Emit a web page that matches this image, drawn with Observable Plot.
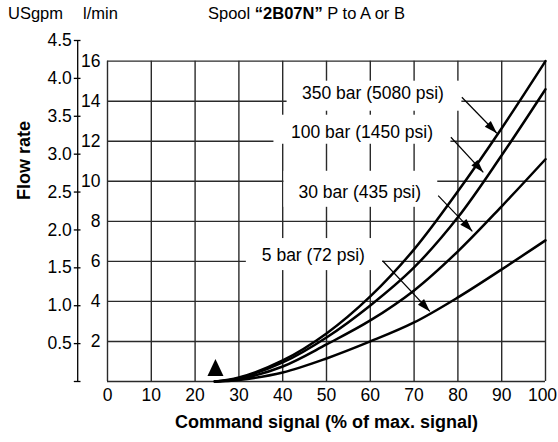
<!DOCTYPE html>
<html><head><meta charset="utf-8">
<script src="https://cdn.jsdelivr.net/npm/d3@7"></script>
<script src="https://cdn.jsdelivr.net/npm/@observablehq/plot@0.6"></script>
<style>
body{margin:0;background:#fff;font-family:"Liberation Sans",Arial,sans-serif;}
#wrap{position:relative;width:558px;height:442px;overflow:hidden;}
#wrap svg{position:absolute;left:0;top:0;}
.hdr{position:absolute;top:5px;font-size:16.5px;line-height:16px;color:#000;white-space:pre;z-index:2;}
</style></head><body>
<div id="wrap">
<div class="hdr" style="left:8px">USgpm</div>
<div class="hdr" style="left:83px">l/min</div>
<div class="hdr" style="left:208px">Spool <b>“2B07N”</b> P to A or B</div>
</div>
<script>
// ---- data ----
const signal  = [24.5, 30, 40, 50, 60, 70, 80, 90, 100];
const flow350 = [0, 0.2, 1.05, 2.4, 4.25, 6.6, 9.5, 12.65, 16.0];
const flow100 = [0, 0.17, 0.95, 2.2, 3.8, 5.7, 8.2, 11.3, 14.6];
const flow30  = [0, 0.12, 0.75, 1.85, 3.05, 4.55, 6.5, 8.75, 11.1];
const flow5   = [0, 0.08, 0.45, 1.15, 2.0, 2.95, 4.2, 5.6, 7.05];
const seriesNames = ["350 bar", "100 bar", "30 bar", "5 bar"];
const xTicks = [0, 10, 20, 30, 40, 50, 60, 70, 80, 90, 100];
const lpmTicks = [2, 4, 6, 8, 10, 12, 14, 16];
const gpmTicks = [0, 0.5, 1.0, 1.5, 2.0, 2.5, 3.0, 3.5, 4.0, 4.5];
const LPM_PER_GPM = 3.785;
// annotations
const labelText = ["350 bar (5080 psi)", "100 bar (1450 psi)", "30 bar (435 psi)", "5 bar (72 psi)"];
const labelX = [60.6, 58.1, 57.6, 47.0];
const labelY = [14.37, 12.45, 9.45, 6.28];
const boxX1 = [41.0, 38.0, 40.3, 31.7];
const boxX2 = [80.9, 78.4, 75.4, 62.8];
const boxY1 = [13.5, 11.85, 8.7, 5.54];
const boxY2 = [15.0, 13.3, 10.5, 7.14];
const leadX1 = [80.9, 78.4, 75.5, 62.8];
const leadY1 = [14.2, 12.2, 9.28, 6.03];
const leadX2 = [88.9, 85.8, 83.3, 73.6];
const leadY2 = [12.4, 10.45, 7.5, 3.5];
const startMarkX = [24.65];
const startMarkY = [0.7];

// ---- tables ----
const flows = [flow350, flow100, flow30, flow5];
const rows = [];
flows.forEach((vals, k) => signal.forEach((s, i) => rows.push({name: seriesNames[k], x: s, y: vals[i]})));
const labels = labelText.map((t, i) => ({t, x: labelX[i], y: labelY[i], x1: boxX1[i], x2: boxX2[i], y1: boxY1[i], y2: boxY2[i]}));
const leaders = leadX1.map((_, i) => ({x1: leadX1[i], y1: leadY1[i], x2: leadX2[i], y2: leadY2[i]}));
const startMark = startMarkX.map((x, i) => ({x, y: startMarkY[i]}));

const arrowHead = {draw(ctx) { ctx.moveTo(0, 0); ctx.lineTo(4.2, 13); ctx.lineTo(-4.2, 13); ctx.closePath(); }};
const bigTriangle = {draw(ctx) { ctx.moveTo(0, -8.5); ctx.lineTo(8, 8.5); ctx.lineTo(-8, 8.5); ctx.closePath(); }};

const FS = 17.5;
const gridColor = "#2a2a2a";
const xTicksMain = xTicks.slice(0, -1);
const xTickLast = xTicks.slice(-1);

function build(rot) {
  return Plot.plot({
    width: 558, height: 442,
    marginLeft: 107, marginRight: 13, marginTop: 40, marginBottom: 61,
    x: {domain: [0, 100]},
    y: {domain: [0, 4.5 * LPM_PER_GPM]},
    style: {fontFamily: "'Liberation Sans', Arial, sans-serif", fontSize: FS + "px", color: "#000", background: "transparent", overflow: "visible"},
    marks: [
      Plot.ruleX(xTicks, {x: d => d, y1: 0, y2: 16, stroke: gridColor, strokeWidth: 1.4}),
      Plot.ruleY([0, ...lpmTicks], {y: d => d, x1: 0, x2: 100, stroke: gridColor, strokeWidth: 1.4}),
      Plot.rect(labels, {x1: "x1", x2: "x2", y1: "y1", y2: "y2", fill: "white"}),
      Plot.axisX(xTicksMain, {tickSize: 0, tickPadding: 7, label: null, tickFormat: d => String(d), fontSize: FS}),
      Plot.axisX(xTickLast, {tickSize: 0, tickPadding: 7, label: null, tickFormat: d => String(d), fontSize: FS, dx: -3}),
      Plot.axisY(lpmTicks, {anchor: "left", tickSize: 0, tickPadding: 7, label: null, tickFormat: d => String(d), fontSize: FS}),
      Plot.axisY(gpmTicks.map(g => g * LPM_PER_GPM), {anchor: "left", tickSize: 6.7, tickPadding: 2.5, dx: -26.5, label: null, stroke: "#000", strokeWidth: 1.3,
        tickFormat: d => { const g = d / LPM_PER_GPM; return g < 0.01 ? "" : g.toFixed(1); }, fontSize: FS}),
      Plot.ruleX([0], {y1: 0, y2: 4.5 * LPM_PER_GPM, dx: -29.8, stroke: "#000", strokeWidth: 1.3}),
      Plot.line(rows, {x: "x", y: "y", z: "name", curve: "catmull-rom", stroke: "#000", strokeWidth: 2.5}),
      Plot.link(leaders, {x1: "x1", y1: "y1", x2: "x2", y2: "y2", stroke: "#000", strokeWidth: 1.2}),
      Plot.dot(leaders, {x: "x2", y: "y2", symbol: arrowHead, r: 4, fill: "#000", stroke: "none", rotate: (d, i) => rot[i]}),
      Plot.dot(startMark, {x: "x", y: "y", symbol: bigTriangle, r: 6, fill: "#000", stroke: "none"}),
      Plot.text(labels, {x: "x", y: "y", text: "t", fontSize: FS, fill: "#000"}),
      Plot.text(["Command signal (% of max. signal)"], {text: d => d, frameAnchor: "bottom", dy: 46, fontWeight: "bold", fontSize: 18, fill: "#000"}),
      Plot.text(["Flow rate"], {text: d => d, frameAnchor: "left", dx: -83, dy: -11, rotate: -90, fontWeight: "bold", fontSize: 18, fill: "#000"})
    ]
  });
}

let chart = build(leaders.map(() => 0));
const sx = chart.scale("x"), sy = chart.scale("y");
const X = d3.scaleLinear(sx.domain, sx.range), Y = d3.scaleLinear(sy.domain, sy.range);
const rot = leaders.map(d => {
  const dx = X(d.x2) - X(d.x1), dy = Y(d.y2) - Y(d.y1);
  return Math.atan2(dx, -dy) * 180 / Math.PI;
});
chart = build(rot);
document.getElementById("wrap").appendChild(chart);
</script>
</body></html>
